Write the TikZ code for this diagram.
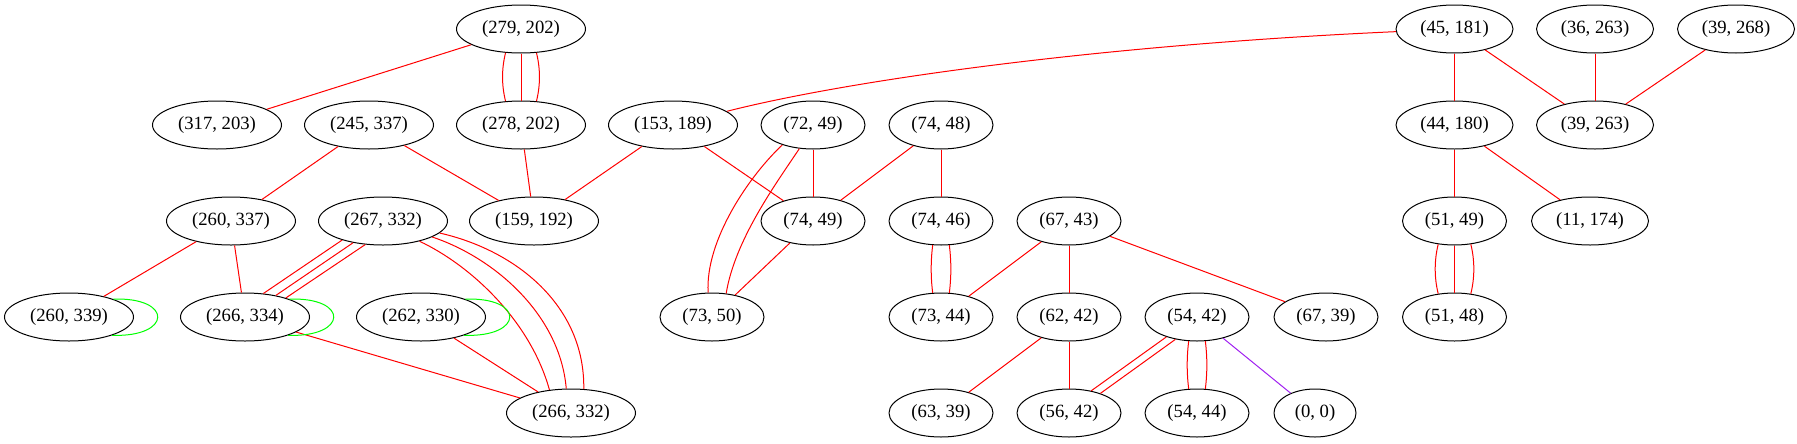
\documentclass[tikz,border=0pt]{standalone}
\usepackage{fontspec}
\setmainfont{Liberation Serif}
\usetikzlibrary{shapes.geometric}
\definecolor{gvpurple}{HTML}{A020F0}
\definecolor{gvgreen}{HTML}{00FF00}
\definecolor{gvred}{HTML}{FF0000}
\begin{document}
\begin{tikzpicture}[x=0.75pt,y=-0.75pt,line width=0.75pt,
  gnode/.style={draw=black,ellipse,inner sep=0pt,minimum height=36pt,font=\fontsize{14pt}{16pt}\selectfont},
  ellA/.style={gnode,minimum width=96.75pt},
  ellB/.style={gnode,minimum width=87.75pt},
  ellC/.style={gnode,minimum width=78pt},
  ellD/.style={gnode,minimum width=61.5pt},
  redline/.style={draw=gvred},
  greenline/.style={draw=gvgreen},
  purpleline/.style={draw=gvpurple}]
\useasboundingbox (0,0) rectangle (1797,443);
% row 1
\node[ellA] (n279202) at (521,29) {(279, 202)};
\node[ellB] (n45181) at (1454.5,29) {(45, 181)};
\node[ellB] (n36263) at (1595,29) {(36, 263)};
\node[ellB] (n39268) at (1736,29) {(39, 268)};
% row 2
\node[ellA] (n317203) at (217,125) {(317, 203)};
\node[ellA] (n245337) at (369,125) {(245, 337)};
\node[ellA] (n278202) at (521,125) {(278, 202)};
\node[ellA] (n153189) at (673,125) {(153, 189)};
\node[ellC] (n7249) at (813,125) {(72, 49)};
\node[ellC] (n7448) at (941,125) {(74, 48)};
\node[ellB] (n44180) at (1454.5,125) {(44, 180)};
\node[ellB] (n39263) at (1595,125) {(39, 263)};
% row 3
\node[ellA] (n260337) at (231,221) {(260, 337)};
\node[ellA] (n267332) at (383,221) {(267, 332)};
\node[ellA] (n159192) at (534,221) {(159, 192)};
\node[ellC] (n7449) at (813,221) {(74, 49)};
\node[ellC] (n7446) at (941,221) {(74, 46)};
\node[ellC] (n6743) at (1069,221) {(67, 43)};
\node[ellC] (n5149) at (1454.5,221) {(51, 49)};
\node[ellB] (n11174) at (1590,221) {(11, 174)};
% row 4
\node[ellA] (n260339) at (69,317) {(260, 339)};
\node[ellA] (n266334) at (245,317) {(266, 334)};
\node[ellA] (n262330) at (421,317) {(262, 330)};
\node[ellC] (n7350) at (712,317) {(73, 50)};
\node[ellC] (n7344) at (941,317) {(73, 44)};
\node[ellC] (n6242) at (1069,317) {(62, 42)};
\node[ellC] (n5442) at (1197,317) {(54, 42)};
\node[ellC] (n6739) at (1326,317) {(67, 39)};
\node[ellC] (n5148) at (1454.5,317) {(51, 48)};
% row 5
\node[ellA] (n266332) at (571,413) {(266, 332)};
\node[ellC] (n6339) at (941,413) {(63, 39)};
\node[ellC] (n5642) at (1069,413) {(56, 42)};
\node[ellC] (n5444) at (1197,413) {(54, 44)};
\node[ellD] (n00) at (1315,413) {(0, 0)};
% edges
\draw[redline] (n279202) -- (n317203);
\draw[redline] (n279202) -- (n278202);
\draw[redline] (n279202.237) .. controls +(-4,16) and +(-4,-16) .. (n278202.123);
\draw[redline] (n279202.303) .. controls +(4,16) and +(4,-16) .. (n278202.57);
\draw[redline] (n45181) .. controls (1100,45) and (850,80) .. (n153189);
\draw[redline] (n45181) -- (n44180);
\draw[redline] (n45181) -- (n39263);
\draw[redline] (n36263) -- (n39263);
\draw[redline] (n39268) -- (n39263);
\draw[redline] (n245337) -- (n260337);
\draw[redline] (n245337) -- (n159192);
\draw[redline] (n278202) -- (n159192);
\draw[redline] (n153189) -- (n159192);
\draw[redline] (n153189) -- (n7449);
\draw[redline] (n7249) -- (n7449);
\draw[redline] (n7249.213) .. controls (750,175) and (705,240) .. (n7350.99.5);
\draw[redline] (n7249.240) .. controls (775,185) and (735,240) .. (n7350.59.6);
\draw[redline] (n7448) -- (n7449);
\draw[redline] (n7448) -- (n7446);
\draw[redline] (n7446.251) .. controls +(-2,16) and +(-2,-16) .. (n7344.109);
\draw[redline] (n7446.289) .. controls +(2,16) and +(2,-16) .. (n7344.71);
\draw[redline] (n7449) -- (n7350);
\draw[redline] (n44180) -- (n5149);
\draw[redline] (n44180) -- (n11174);
\draw[redline] (n5149) -- (n5148);
\draw[redline] (n5149.235) .. controls +(-4,16) and +(-4,-16) .. (n5148.125);
\draw[redline] (n5149.305) .. controls +(4,16) and +(4,-16) .. (n5148.55);
\draw[redline] (n260337) -- (n260339);
\draw[redline] (n260337) -- (n266334);
\draw[redline] (n267332.205) -- (n266334.52);
\draw[redline] (n267332.216) -- (n266334.35);
\draw[redline] (n267332.233) -- (n266334.25.5);
\draw[redline] (n267332.331) .. controls (470,265) and (530,320) .. (n266332.133.7);
\draw[redline] (n267332.342) .. controls (495,258) and (560,315) .. (n266332.101.8);
\draw[redline] (n267332.348) .. controls (515,250) and (585,305) .. (n266332.62.4);
\draw[redline] (n266334) -- (n266332);
\draw[redline] (n262330) -- (n266332);
\draw[redline] (n6743) -- (n7344);
\draw[redline] (n6743) -- (n6242);
\draw[redline] (n6743) -- (n6739);
\draw[redline] (n6242) -- (n6339);
\draw[redline] (n6242) -- (n5642);
\draw[redline] (n5442.213) -- (n5642.45);
\draw[redline] (n5442.226) -- (n5642.32);
\draw[redline] (n5442.251) .. controls +(-2,16) and +(-2,-16) .. (n5444.109);
\draw[redline] (n5442.289) .. controls +(2,16) and +(2,-16) .. (n5444.71);
\draw[purpleline] (n5442) -- (n00);
% self loops
\draw[greenline] (n260339.22.7) .. controls +(60,-2) and +(60,2) .. (n260339.337.3);
\draw[greenline] (n266334.22.7) .. controls +(60,-2) and +(60,2) .. (n266334.337.3);
\draw[greenline] (n262330.22.7) .. controls +(60,-2) and +(60,2) .. (n262330.337.3);
\end{tikzpicture}
\end{document}
